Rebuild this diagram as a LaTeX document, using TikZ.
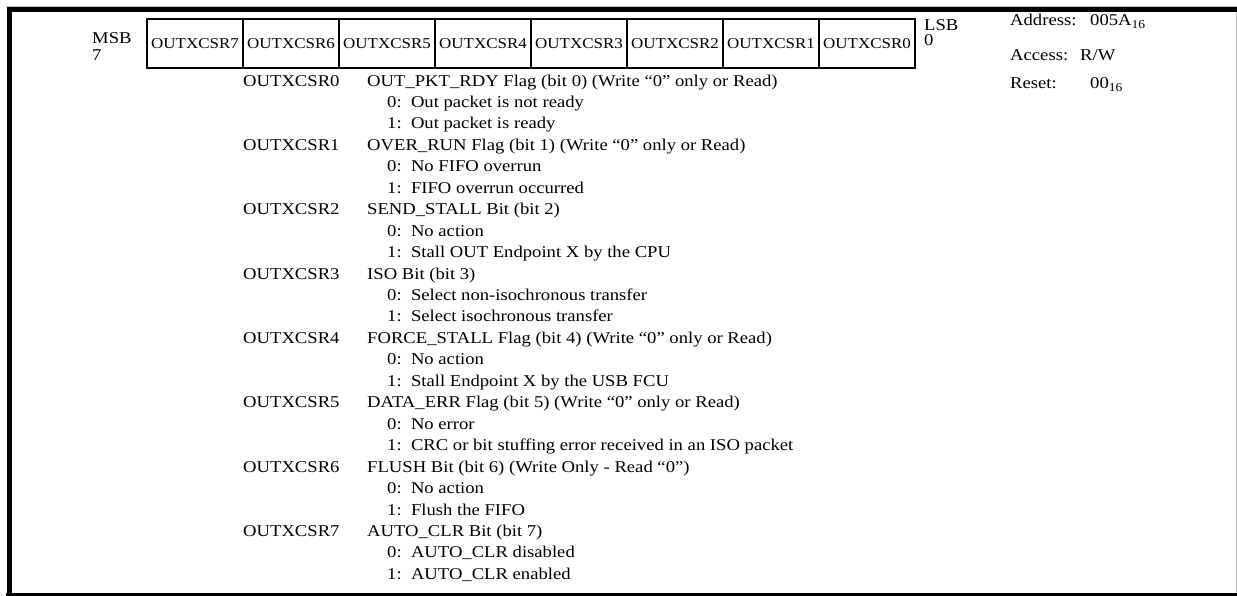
\documentclass[tikz,border=0pt]{standalone}
\usepackage{fontspec}
\setmainfont[FakeStretch=1.13]{Liberation Serif}
\newcommand\regsub[1]{\raisebox{-0.4ex}{\fontsize{12}{12}\selectfont #1}}
\newcommand\rowy[1]{{86+#1*21.45}}
\begin{document}
\begin{tikzpicture}[x=1pt,y=-1pt,
  txt/.style={anchor=base west,inner sep=0pt,font=\fontsize{16.5}{19}\selectfont},
  cell/.style={draw,line width=1.1pt,minimum width=96pt,minimum height=49pt,inner sep=0pt,font=\fontsize{15}{18}\selectfont},
  frameline/.style={line width=5pt}]
\useasboundingbox (0,0) rectangle (1237,595);
% outer frame
\draw[black!25,line width=0.8pt] (5.5,6.5) -- (1236.3,6.5) -- (1236.3,596);
\draw[frameline] (9,597) -- (9,9.5) -- (1237,9.5);
\draw[line width=3pt] (6,594) -- (1237,594);
% register cells
\foreach \b [count=\k from 0] in {7,6,5,4,3,2,1,0}
  \node[cell] (c\b) at ({147+48+\k*96},43.5) {OUTXCSR\b};
% MSB / LSB
\node[txt] (msb) at (92,43) {MSB};
\node[txt] (msbn) at (92,60) {7};
\node[txt] (lsb) at (924,30) {LSB};
\node[txt] (lsbn) at (924,45.5) {0};
% address info
\node[txt] (addr) at (1010,25) {Address:};
\node[txt] (addrv) at (1090,25) {005A\regsub{16}};
\node[txt] (acc) at (1010,60) {Access:};
\node[txt] (accv) at (1080,60) {R/W};
\node[txt] (rst) at (1010,88) {Reset:};
\node[txt] (rstv) at (1090,88) {00\regsub{16}};
% descriptions
\node[txt] (n0) at (243,\rowy{0}) {OUTXCSR0};
\node[txt] (d0) at (367,\rowy{0}) {OUT\_PKT\_RDY Flag (bit 0) (Write “0” only or Read)};
\node[txt] (d0a) at (387,\rowy{1}) {0:\ \ Out packet is not ready};
\node[txt] (d0b) at (387,\rowy{2}) {1:\ \ Out packet is ready};
\node[txt] (n1) at (243,\rowy{3}) {OUTXCSR1};
\node[txt] (d1) at (367,\rowy{3}) {OVER\_RUN Flag (bit 1) (Write “0” only or Read)};
\node[txt] (d1a) at (387,\rowy{4}) {0:\ \ No FIFO overrun};
\node[txt] (d1b) at (387,\rowy{5}) {1:\ \ FIFO overrun occurred};
\node[txt] (n2) at (243,\rowy{6}) {OUTXCSR2};
\node[txt] (d2) at (367,\rowy{6}) {SEND\_STALL Bit (bit 2)};
\node[txt] (d2a) at (387,\rowy{7}) {0:\ \ No action};
\node[txt] (d2b) at (387,\rowy{8}) {1:\ \ Stall OUT Endpoint X by the CPU};
\node[txt] (n3) at (243,\rowy{9}) {OUTXCSR3};
\node[txt] (d3) at (367,\rowy{9}) {ISO Bit (bit 3)};
\node[txt] (d3a) at (387,\rowy{10}) {0:\ \ Select non-isochronous transfer};
\node[txt] (d3b) at (387,\rowy{11}) {1:\ \ Select isochronous transfer};
\node[txt] (n4) at (243,\rowy{12}) {OUTXCSR4};
\node[txt] (d4) at (367,\rowy{12}) {FORCE\_STALL Flag (bit 4) (Write “0” only or Read)};
\node[txt] (d4a) at (387,\rowy{13}) {0:\ \ No action};
\node[txt] (d4b) at (387,\rowy{14}) {1:\ \ Stall Endpoint X by the USB FCU};
\node[txt] (n5) at (243,\rowy{15}) {OUTXCSR5};
\node[txt] (d5) at (367,\rowy{15}) {DATA\_ERR Flag (bit 5) (Write “0” only or Read)};
\node[txt] (d5a) at (387,\rowy{16}) {0:\ \ No error};
\node[txt] (d5b) at (387,\rowy{17}) {1:\ \ CRC or bit stuffing error received in an ISO packet};
\node[txt] (n6) at (243,\rowy{18}) {OUTXCSR6};
\node[txt] (d6) at (367,\rowy{18}) {FLUSH Bit (bit 6) (Write Only - Read “0”)};
\node[txt] (d6a) at (387,\rowy{19}) {0:\ \ No action};
\node[txt] (d6b) at (387,\rowy{20}) {1:\ \ Flush the FIFO};
\node[txt] (n7) at (243,\rowy{21}) {OUTXCSR7};
\node[txt] (d7) at (367,\rowy{21}) {AUTO\_CLR Bit (bit 7)};
\node[txt] (d7a) at (387,\rowy{22}) {0:\ \ AUTO\_CLR disabled};
\node[txt] (d7b) at (387,\rowy{23}) {1:\ \ AUTO\_CLR enabled};
\end{tikzpicture}
\end{document}
